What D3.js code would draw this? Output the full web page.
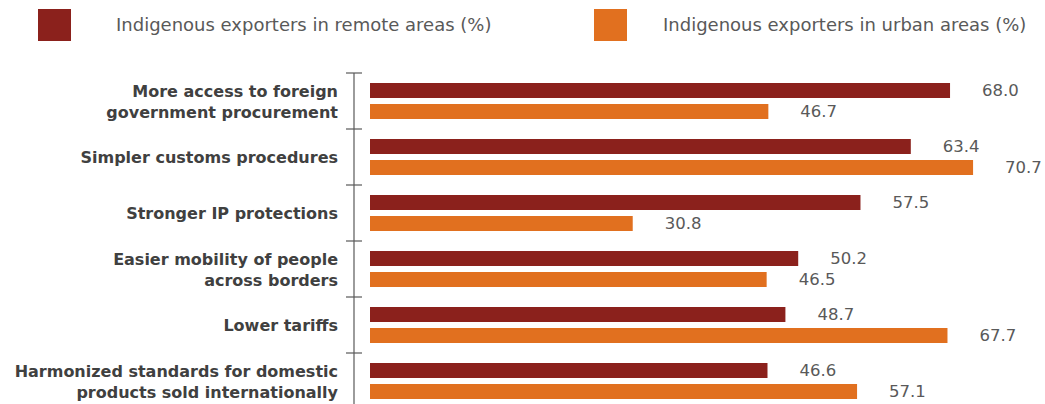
<!DOCTYPE html>
<html>
<head>
<meta charset="utf-8">
<script src="https://cdn.jsdelivr.net/npm/d3@7"></script>
<style>
  html, body { margin: 0; padding: 0; background: #fff; }
  svg { display: block; }
  text { font-family: "DejaVu Sans", sans-serif; }
</style>
</head>
<body>
<svg id="chart" width="1045" height="404"></svg>
<script>
// Trade policy priorities, shown as two-line category labels
const categories = [
  ["More access to foreign", "government procurement"],
  ["Simpler customs procedures"],
  ["Stronger IP protections"],
  ["Easier mobility of people", "across borders"],
  ["Lower tariffs"],
  ["Harmonized standards for domestic", "products sold internationally"]
];
const seriesNames = [
  "Indigenous exporters in remote areas (%)",
  "Indigenous exporters in urban areas (%)"
];
const remoteValues = [68.0, 63.4, 57.5, 50.2, 48.7, 46.6];
const urbanValues = [46.7, 70.7, 30.8, 46.5, 67.7, 57.1];
const seriesColors = ["#8B211C", "#E1701F"];

const svg = d3.select("#chart");
const catKeys = categories.map((c, i) => i);
const seriesKeys = [0, 1];
const values = [remoteValues, urbanValues];

// Scales
const x = d3.scaleLinear().domain([0, 100]).range([370, 370 + 853]);
const y0 = d3.scaleBand().domain(catKeys).range([73, 409]).padding(0);
const y1 = d3.scaleBand().domain(seriesKeys).range([10, 46]).paddingInner(6 / 21).paddingOuter(0);

// Legend
const legend = svg.append("g");
const legendX = [38, 594];
const legendTextX = [116, 663];
seriesKeys.forEach(s => {
  legend.append("rect")
    .attr("x", legendX[s]).attr("y", 9)
    .attr("width", 33).attr("height", 32)
    .attr("fill", seriesColors[s]);
  legend.append("text")
    .attr("x", legendTextX[s]).attr("y", 25)
    .attr("dy", "0.35em")
    .attr("font-size", 18)
    .attr("fill", "#595959")
    .text(seriesNames[s]);
});

// Category axis
const axisX = 354;
svg.append("line")
  .attr("x1", axisX).attr("x2", axisX)
  .attr("y1", y0.range()[0]).attr("y2", y0.range()[1])
  .attr("stroke", "#595959").attr("stroke-width", 1.2);
const tickPos = catKeys.map(k => y0(k)).concat([y0.range()[1]]);
svg.append("g").selectAll("line").data(tickPos).join("line")
  .attr("x1", axisX - 8).attr("x2", axisX + 8)
  .attr("y1", d => d).attr("y2", d => d)
  .attr("stroke", "#595959").attr("stroke-width", 1.2);

// Category labels
const labels = svg.append("g").selectAll("text").data(catKeys).join("text")
  .attr("x", 338)
  .attr("text-anchor", "end")
  .attr("font-size", 16)
  .attr("font-weight", "bold")
  .attr("fill", "#404040")
  .attr("y", k => y0(k) + y0.bandwidth() / 2);
labels.each(function(k) {
  const lines = categories[k];
  const lh = 21;
  const t = d3.select(this);
  lines.forEach((ln, i) => {
    t.append("tspan")
      .attr("x", 338)
      .attr("dy", i === 0 ? ((-(lines.length - 1) / 2) * lh + 6) + "px" : lh + "px")
      .text(ln);
  });
});

// Bars and value labels
const groups = svg.append("g").selectAll("g").data(catKeys).join("g")
  .attr("transform", k => `translate(0,${y0(k)})`);
groups.selectAll("rect").data(k => seriesKeys.map(s => ({ s, v: values[s][k] }))).join("rect")
  .attr("x", x(0))
  .attr("y", d => y1(d.s))
  .attr("width", d => x(d.v) - x(0))
  .attr("height", y1.bandwidth())
  .attr("fill", d => seriesColors[d.s]);
groups.selectAll("text").data(k => seriesKeys.map(s => ({ s, v: values[s][k] }))).join("text")
  .attr("x", d => x(d.v) + 32)
  .attr("y", d => y1(d.s) + y1.bandwidth() / 2)
  .attr("dy", "0.36em")
  .attr("font-size", 16.5)
  .attr("fill", "#595959")
  .text(d => d.v.toFixed(1));
</script>
</body>
</html>
